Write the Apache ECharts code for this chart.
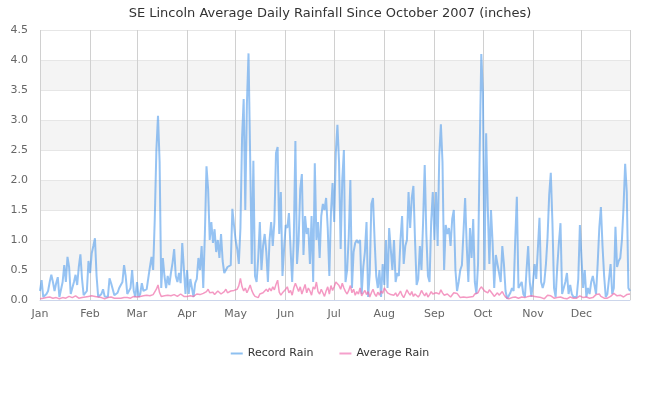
<!DOCTYPE html>
<html>
<head>
<meta charset="utf-8">
<script src="https://cdn.jsdelivr.net/npm/echarts@6/dist/echarts.min.js"></script>
<style>html,body{margin:0;padding:0;background:#fff}#c{width:660px;height:400px}</style>
</head>
<body>
<div id="c"></div>
<script>
var monthNames = ['Jan','Feb','Mar','Apr','May','Jun','Jul','Aug','Sep','Oct','Nov','Dec'];
var daysInMonth = [31,29,31,30,31,30,31,31,30,31,30,31];

var recordJan = [0.15,0.33,0.05,0.08,0.10,0.15,0.30,0.42,0.30,0.15,0.28,0.38,0.05,0.08,0.30,0.58,0.30,0.72,0.55,0.10,0.08,0.30,0.42,0.25,0.55,0.76,0.35,0.08,0.10,0.15,0.65];
var recordFeb = [0.45,0.78,0.90,1.03,0.40,0.05,0.08,0.10,0.18,0.06,0.05,0.05,0.36,0.28,0.25,0.08,0.10,0.12,0.20,0.25,0.30,0.58,0.40,0.10,0.12,0.20,0.50,0.15,0.05];
var recordMar = [0.30,0.05,0.10,0.28,0.15,0.18,0.18,0.20,0.55,0.72,0.50,1.35,2.50,3.07,2.30,0.20,0.70,0.40,0.20,0.40,0.25,0.45,0.62,0.85,0.40,0.30,0.45,0.28,0.95,0.98,0.10];
var recordApr = [0.50,0.10,0.35,0.20,0.05,0.28,0.35,0.70,0.50,0.90,0.20,1.10,2.23,1.85,1.00,1.30,0.95,1.18,0.80,1.00,0.70,1.10,0.65,0.45,0.50,0.55,0.55,0.58,1.52,1.25];
var recordMay = [1.00,0.85,0.60,1.20,2.70,3.35,1.50,3.27,4.11,2.40,0.60,2.32,0.40,0.30,0.70,1.30,0.50,0.90,1.10,0.80,0.30,1.00,1.30,0.90,1.30,2.45,2.55,1.10,1.80,0.40,0.85];
var recordJun = [1.25,1.20,1.45,0.85,0.30,1.00,2.65,0.60,1.00,1.85,2.10,0.75,1.40,1.10,1.20,0.60,1.40,0.30,2.28,1.00,1.30,0.70,1.40,1.60,1.50,1.70,1.20,0.40,1.45,1.95];
var recordJul = [1.30,2.45,2.92,2.30,0.85,2.00,2.50,0.30,0.50,1.05,2.00,0.20,0.80,0.95,1.00,0.95,1.00,0.10,0.55,0.80,1.30,0.05,0.45,1.60,1.70,1.00,0.40,0.20,0.50,0.05,0.60];
var recordAug = [0.25,1.00,0.20,1.20,0.85,0.50,1.00,0.30,0.45,0.40,1.00,1.40,0.60,0.90,1.00,1.80,1.20,1.70,1.90,1.00,0.25,0.35,0.90,0.50,1.30,2.25,1.10,0.40,0.30,1.30,1.80];
var recordSep = [1.00,1.80,0.90,2.40,2.93,2.30,0.50,1.25,1.10,1.20,0.90,1.35,1.50,0.50,0.15,0.30,0.50,0.58,0.55,1.70,0.90,0.30,1.20,0.70,1.35,0.30,0.10,0.60,2.45,4.10];
var recordOct = [3.45,0.50,2.78,1.55,0.60,1.50,0.95,0.20,0.75,0.60,0.45,0.30,0.90,0.60,0.15,0.02,0.05,0.12,0.20,0.15,1.00,1.72,0.20,0.20,0.30,0.10,0.05,0.50,0.90,0.30,0.05];
var recordNov = [0.30,0.60,0.35,0.85,1.37,0.30,0.20,0.30,0.60,1.05,1.75,2.12,1.30,0.20,0.05,0.55,0.95,1.28,0.10,0.20,0.30,0.45,0.10,0.25,0.10,0.05,0.03,0.05,0.35,1.25];
var recordDec = [0.70,0.20,0.50,0.05,0.20,0.10,0.30,0.40,0.25,0.10,0.60,1.20,1.55,0.90,0.40,0.05,0.10,0.35,0.60,0.10,0.20,1.22,0.55,0.65,0.70,1.00,1.55,2.27,1.80,0.20,0.15];

var avgJan = [0.02,0.03,0.03,0.02,0.04,0.03,0.05,0.04,0.03,0.05,0.04,0.03,0.02,0.03,0.04,0.05,0.03,0.04,0.06,0.03,0.04,0.06,0.07,0.04,0.03,0.05,0.04,0.03,0.05,0.04,0.06];
var avgFeb = [0.05,0.07,0.08,0.06,0.09,0.05,0.03,0.04,0.03,0.02,0.03,0.04,0.03,0.05,0.04,0.03,0.02,0.03,0.04,0.03,0.05,0.04,0.03,0.04,0.05,0.03,0.04,0.06,0.04];
var avgMar = [0.05,0.04,0.06,0.05,0.07,0.06,0.08,0.05,0.07,0.06,0.09,0.12,0.18,0.25,0.12,0.06,0.05,0.07,0.06,0.08,0.05,0.07,0.06,0.09,0.07,0.06,0.08,0.10,0.07,0.06,0.08];
var avgApr = [0.06,0.08,0.07,0.09,0.06,0.08,0.10,0.07,0.09,0.08,0.11,0.09,0.14,0.18,0.12,0.10,0.13,0.09,0.11,0.15,0.12,0.10,0.09,0.14,0.18,0.12,0.10,0.15,0.13,0.16];
var avgMay = [0.14,0.18,0.24,0.36,0.22,0.15,0.20,0.12,0.18,0.25,0.16,0.10,0.06,0.08,0.04,0.10,0.07,0.12,0.09,0.18,0.14,0.20,0.15,0.22,0.17,0.26,0.33,0.13,0.08,0.12,0.10];
var avgJun = [0.18,0.22,0.12,0.16,0.08,0.20,0.28,0.30,0.14,0.22,0.10,0.18,0.26,0.12,0.20,0.15,0.08,0.22,0.18,0.30,0.14,0.10,0.18,0.12,0.06,0.15,0.22,0.10,0.24,0.16];
var avgJul = [0.22,0.30,0.33,0.24,0.18,0.28,0.20,0.14,0.10,0.16,0.24,0.12,0.18,0.08,0.14,0.10,0.20,0.07,0.12,0.16,0.09,0.14,0.05,0.12,0.18,0.10,0.06,0.13,0.08,0.15,0.11];
var avgAug = [0.20,0.16,0.12,0.14,0.09,0.11,0.08,0.12,0.06,0.10,0.15,0.08,0.04,0.10,0.17,0.12,0.08,0.14,0.06,0.10,0.13,0.05,0.09,0.16,0.11,0.07,0.12,0.05,0.09,0.14,0.10];
var avgSep = [0.08,0.12,0.15,0.10,0.17,0.12,0.08,0.06,0.10,0.07,0.05,0.08,0.12,0.09,0.11,0.08,0.04,0.03,0.05,0.03,0.04,0.06,0.05,0.08,0.06,0.10,0.07,0.12,0.18,0.22];
var avgOct = [0.25,0.15,0.18,0.12,0.17,0.14,0.10,0.06,0.09,0.12,0.08,0.10,0.14,0.09,0.05,0.03,0.02,0.03,0.04,0.03,0.05,0.04,0.03,0.04,0.05,0.03,0.04,0.03,0.06,0.09,0.07];
var avgNov = [0.08,0.06,0.09,0.05,0.03,0.04,0.03,0.02,0.05,0.08,0.11,0.07,0.04,0.03,0.02,0.04,0.03,0.05,0.04,0.03,0.04,0.02,0.03,0.05,0.04,0.03,0.02,0.03,0.05,0.07];
var avgDec = [0.06,0.04,0.03,0.05,0.04,0.03,0.05,0.04,0.06,0.09,0.12,0.10,0.06,0.04,0.03,0.02,0.03,0.04,0.06,0.08,0.11,0.09,0.07,0.10,0.08,0.06,0.05,0.07,0.09,0.06,0.10];

var yTicks = [0,0.5,1,1.5,2,2.5,3,3.5,4,4.5];

var recordRain = [].concat(recordJan,recordFeb,recordMar,recordApr,recordMay,recordJun,recordJul,recordAug,recordSep,recordOct,recordNov,recordDec);
var averageRain = [].concat(avgJan,avgFeb,avgMar,avgApr,avgMay,avgJun,avgJul,avgAug,avgSep,avgOct,avgNov,avgDec);

var categories = [];
var monthStart = {};
for (var m = 0; m < 12; m++) {
  monthStart[categories.length] = monthNames[m];
  for (var d = 1; d <= daysInMonth[m]; d++) categories.push(monthNames[m] + ' ' + d);
}
var lastIdx = categories.length - 1;

var chart = echarts.init(document.getElementById('c'), null, {renderer: 'canvas'});
chart.setOption({
  animation: false,
  title: {
    text: 'SE Lincoln Average Daily Rainfall Since October 2007 (inches)',
    left: 'center', top: 2,
    textStyle: {fontFamily: 'DejaVu Sans', fontSize: 13, fontWeight: 'normal', color: '#333'}
  },
  legend: {
    bottom: 36, left: 'center',
    icon: 'rect', itemWidth: 12, itemHeight: 2, itemGap: 26,
    textStyle: {fontFamily: 'DejaVu Sans', fontSize: 11, color: '#333'},
    data: ['Record Rain', 'Average Rain']
  },
  grid: {left: 40, right: 30, top: 30, bottom: 100, containLabel: false},
  xAxis: {
    type: 'category', data: categories, boundaryGap: false,
    axisLine: {lineStyle: {color: '#ccd6eb'}},
    axisTick: {show: false},
    axisLabel: {
      interval: function (i) { return monthStart[i] !== undefined; },
      formatter: function (v, i) { return v.split(' ')[0]; },
      fontFamily: 'DejaVu Sans', fontSize: 11, color: '#666', margin: 9
    },
    splitLine: {
      show: true,
      interval: function (i) { return monthStart[i] !== undefined || i === lastIdx; },
      lineStyle: {color: '#d0d0d0', width: 1}
    }
  },
  yAxis: {
    type: 'value', min: yTicks[0], max: yTicks[yTicks.length - 1], interval: 0.5,
    axisLine: {show: false}, axisTick: {show: false},
    axisLabel: {
      formatter: function (v) { return v.toFixed(1); },
      fontFamily: 'DejaVu Sans', fontSize: 11, color: '#666', margin: 12
    },
    splitLine: {lineStyle: {color: '#e6e6e6'}},
    splitArea: {show: true, areaStyle: {color: ['rgba(255,255,255,0)', '#f4f4f4']}}
  },
  series: [
    {
      name: 'Record Rain', type: 'line', data: recordRain, symbol: 'none',
      color: '#8ec0f0',
      lineStyle: {width: 2, color: 'rgba(80,155,235,0.6)'}
    },
    {
      name: 'Average Rain', type: 'line', data: averageRain, symbol: 'none',
      color: '#f5a0cc',
      lineStyle: {width: 1.5, color: 'rgba(240,110,170,0.7)'}
    }
  ]
});
</script>
</body>
</html>
